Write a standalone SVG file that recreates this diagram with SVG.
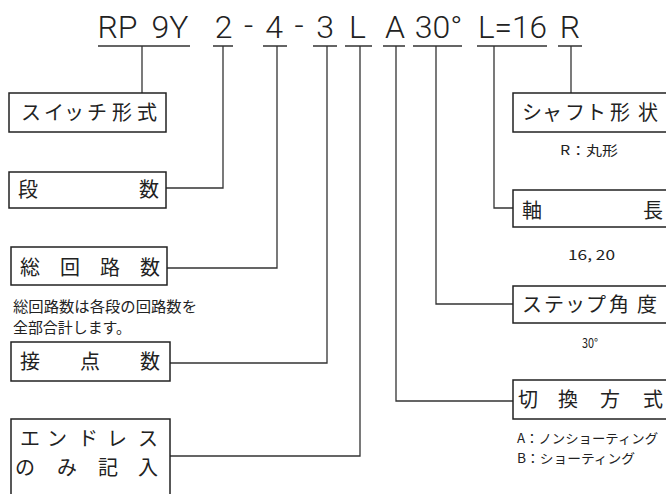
<svg xmlns="http://www.w3.org/2000/svg" width="666" height="494" viewBox="0 0 666 494">
<style>
.bg{fill:#fff}
.code{font-family:Roboto,"Liberation Sans",Arial,sans-serif;font-weight:300;font-size:32px;fill:#222;text-anchor:middle}
.ul{stroke:#333;stroke-width:1.3;fill:none}
.box{fill:#fff;stroke:#222;stroke-width:1.5}
.jp{font-family:"Noto Sans CJK JP","Noto Sans",sans-serif;font-size:20px;fill:#222;text-anchor:middle}
.sm{font-family:"Noto Sans CJK JP","Liberation Sans",sans-serif;font-size:13px;fill:#222}
.note{font-family:"Noto Sans CJK JP",sans-serif;font-size:15px;fill:#222}
.con{stroke:#333;stroke-width:1.3;fill:none}
</style>
<rect class="bg" x="0" y="0" width="666" height="494"/>
<g id="code">
<text class="code" x="117.5" y="38">RP</text>
<text class="code" x="170" y="38">9Y</text>
<text class="code" x="223.5" y="38">2</text>
<text class="code" x="248.5" y="36">-</text>
<text class="code" x="274" y="38">4</text>
<text class="code" x="299" y="36">-</text>
<text class="code" x="325" y="38">3</text>
<text class="code" x="357.5" y="38">L</text>
<text class="code" x="395" y="38">A</text>
<text class="code" x="438.5" y="38">30°</text>
<text class="code" x="512.5" y="38" textLength="69" lengthAdjust="spacingAndGlyphs">L=16</text>
<text class="code" x="570" y="38">R</text>
<path class="ul" d="M98 46H190M213 46H233M263 46H287M313 46H337M345 46H372M383 46H405M413 46H462M477 46H547M558 46H582"/>
</g>
<g id="connectors">
<path class="con" d="M142 46V93"/>
<path class="con" d="M223 46V188H166"/>
<path class="con" d="M277 46V268H167"/>
<path class="con" d="M327 46V363H170"/>
<path class="con" d="M360 46V456H170"/>
<path class="con" d="M396 46V401H513"/>
<path class="con" d="M436 46V304H513"/>
<path class="con" d="M494 46V208H513"/>
<path class="con" d="M571 46V93"/>
</g>
<g id="switch-type">
<rect class="box" x="9" y="93" width="157" height="39"/>
<text class="jp" x="31 54 74 97 122 147" y="120">スイッチ形式</text>
</g>
<g id="stages">
<rect class="box" x="9" y="172" width="157" height="36"/>
<text class="jp" x="28 149" y="197">段数</text>
</g>
<g id="circuits">
<rect class="box" x="11" y="247" width="156" height="38"/>
<text class="jp" x="30 70 110 150" y="275">総回路数</text>
<text class="note" x="13" y="312" textLength="184" lengthAdjust="spacingAndGlyphs">総回路数は各段の回路数を</text>
<text class="note" x="13" y="333" textLength="118" lengthAdjust="spacingAndGlyphs">全部合計します。</text>
</g>
<g id="contacts">
<rect class="box" x="11" y="342" width="159" height="39"/>
<text class="jp" x="30 90 150" y="369">接点数</text>
</g>
<g id="endless">
<rect class="box" x="11" y="419" width="159" height="90"/>
<text class="jp" x="30 57 88 117 148" y="446">エンドレス</text>
<text class="jp" x="25 67 108 148" y="475">のみ記入</text>
</g>
<g id="shaft-shape">
<rect class="box" x="513" y="93" width="170" height="39"/>
<text class="jp" x="532 552 575 596 620 648" y="120">シャフト形状</text>
<text class="sm" x="560" y="155" textLength="58" lengthAdjust="spacingAndGlyphs">R：丸形</text>
</g>
<g id="shaft-length">
<rect class="box" x="513" y="190" width="170" height="37"/>
<text class="jp" x="532 653" y="218">軸長</text>
<text class="sm" x="568" y="260" textLength="47" lengthAdjust="spacingAndGlyphs">16, 20</text>
</g>
<g id="step-angle">
<rect class="box" x="513" y="286" width="170" height="37"/>
<text class="jp" x="532 554 575 596 619 647" y="312">ステップ角度</text>
<text class="sm" x="582" y="348" textLength="16" lengthAdjust="spacingAndGlyphs">30°</text>
</g>
<g id="switching">
<rect class="box" x="513" y="380" width="170" height="39"/>
<text class="jp" x="528 568 610 653" y="407">切換方式</text>
<text class="sm" x="517" y="443" textLength="141" lengthAdjust="spacingAndGlyphs">A：ノンショーティング</text>
<text class="sm" x="517" y="463" textLength="118" lengthAdjust="spacingAndGlyphs">B：ショーティング</text>
</g>
</svg>
